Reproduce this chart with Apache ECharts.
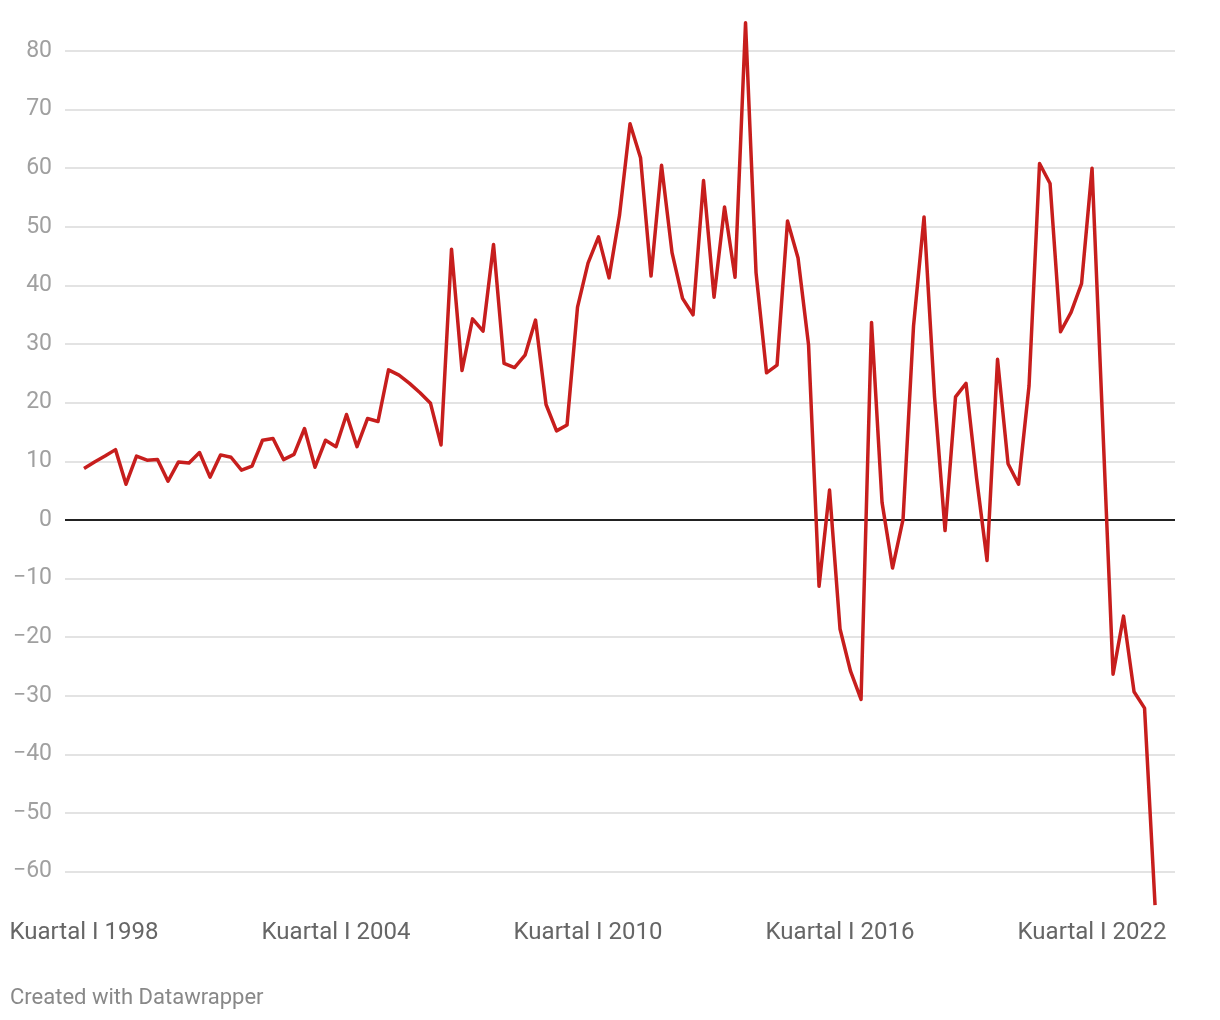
<!DOCTYPE html>
<html>
<head>
<meta charset="utf-8">
<script src="https://cdn.jsdelivr.net/npm/echarts@6/dist/echarts.min.js"></script>
<style>
html,body{margin:0;padding:0;background:#fff;}
#chart{width:1220px;height:1020px;}
</style>
</head>
<body>
<div id="chart"></div>
<script>
// Quarter categories (Kuartal I 1998 ... Kuartal III 2023)
const romans = ['I', 'II', 'III', 'IV'];
const categories = [];
for (let y = 1998; y <= 2023; y++) {
  for (let q = 0; q < 4; q++) categories.push('Kuartal ' + romans[q] + ' ' + y);
}
categories.length = 103;

// Series values
const values = [
  8.8, 9.9, 10.9, 12.0, 6.1, 10.9, 10.2, 10.3, 6.6, 9.9,
  9.7, 11.5, 7.3, 11.1, 10.7, 8.5, 9.2, 13.6, 13.9, 10.3,
  11.2, 15.6, 9.0, 13.6, 12.5, 18.0, 12.5, 17.3, 16.8, 25.6,
  24.7, 23.3, 21.7, 19.9, 12.8, 46.2, 25.5, 34.3, 32.2, 47.0,
  26.7, 26.0, 28.1, 34.1, 19.7, 15.2, 16.2, 36.3, 43.8, 48.3,
  41.3, 52.0, 67.6, 61.8, 41.6, 60.5, 45.6, 37.8, 35.0, 57.9,
  38.0, 53.4, 41.4, 84.8, 42.2, 25.1, 26.4, 51.0, 44.7, 29.9,
  -11.3, 5.1, -18.6, -25.8, -30.6, 33.7, 3.0, -8.2, 0.1, 33.1,
  51.7, 21.0, -1.8, 21.0, 23.3, 7.2, -6.9, 27.4, 9.6, 6.1,
  22.9, 60.8, 57.4, 32.1, 35.4, 40.3, 60.0, 17.0, -26.3, -16.4,
  -29.3, -32.1, -65.7
];

// Tick labels
const xTickIndices = [0, 24, 48, 72, 96];
const yTicks = [-60, -50, -40, -30, -20, -10, 0, 10, 20, 30, 40, 50, 60, 70, 80];

const seriesData = values.map((v, i) => [i, v]);

const gridLines = yTicks.filter(v => v !== 0).map(v => ({ yAxis: v }));

const chart = echarts.init(document.getElementById('chart'), null, { renderer: 'canvas' });
chart.setOption({
  animation: false,
  backgroundColor: '#ffffff',
  textStyle: { fontFamily: 'Roboto' },
  title: {
    text: 'Created with Datawrapper',
    left: 10,
    top: 987,
    padding: 0,
    textStyle: { fontFamily: 'Roboto', fontSize: 22, fontWeight: 'normal', color: '#888888' }
  },
  grid: { left: 65, right: 45, top: 15.8, bottom: 113.1, containLabel: false },
  xAxis: {
    type: 'value',
    min: -1.81,
    max: 103.9,
    axisLine: { show: false },
    axisTick: { show: false },
    splitLine: { show: false },
    axisLabel: {
      customValues: xTickIndices,
      formatter: v => categories[Math.round(v)] || '',
      fontFamily: 'Roboto',
      fontSize: 24,
      color: '#666666',
      margin: 14
    }
  },
  yAxis: {
    type: 'value',
    min: -66,
    max: 86,
    axisLine: { show: false },
    axisTick: { show: false },
    splitLine: { show: false },
    axisLabel: {
      customValues: yTicks,
      formatter: v => (v < 0 ? '\u2212' + Math.abs(v) : String(v)),
      fontFamily: 'Roboto',
      fontSize: 23,
      color: '#a0a0a0',
      margin: 13
    }
  },
  series: [
    {
      name: 'grid',
      type: 'line',
      data: seriesData,
      showSymbol: false,
      symbol: 'none',
      silent: true,
      z: 1,
      lineStyle: { opacity: 0 },
      markLine: {
        silent: true,
        symbol: 'none',
        label: { show: false },
        animation: false,
        lineStyle: { color: '#e3e3e3', width: 2, type: 'solid' },
        data: gridLines.concat([{ yAxis: 0, lineStyle: { color: '#222222', width: 2, type: 'solid' } }])
      }
    },
    {
      name: 'value',
      type: 'line',
      data: seriesData,
      showSymbol: false,
      symbol: 'none',
      z: 5,
      lineStyle: { color: '#c71e1d', width: 3.5, join: 'round' }
    }
  ]
});
</script>
</body>
</html>
